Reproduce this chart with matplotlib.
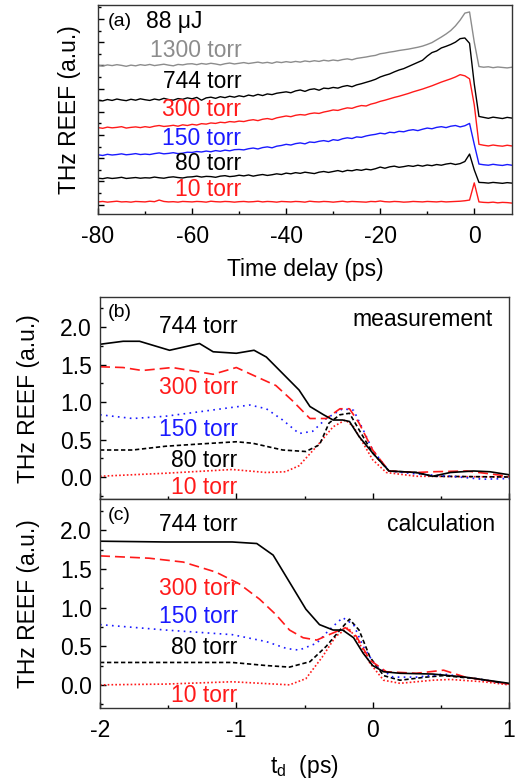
import matplotlib
matplotlib.use("Agg")
import matplotlib.pyplot as plt
from matplotlib.ticker import MultipleLocator

plt.rcParams['font.family'] = ['Liberation Sans', 'DejaVu Sans']
plt.rcParams['font.size'] = 16.5
plt.rcParams['axes.unicode_minus'] = False
plt.rcParams['mathtext.fontset'] = 'custom'
plt.rcParams['mathtext.rm'] = 'Liberation Sans'
plt.rcParams['mathtext.it'] = 'Liberation Sans'

RED = '#ff1a1a'
BLUE = '#1a1aff'
GRAY = '#8c8c8c'

# ---------------- panel (a): long scans, offset traces ----------------
t_a = list(range(-80, 9))

a_10 = [0.12, 0.14, 0.11, 0.13, 0.15, 0.12, 0.13, 0.11, 0.14, 0.13,
        0.12, 0.15, 0.13, 0.20, 0.14, 0.12, 0.13, 0.11, 0.14, 0.13,
        0.12, 0.14, 0.13, 0.11, 0.15, 0.13, 0.12, 0.14, 0.13, 0.11,
        0.13, 0.14, 0.12, 0.13, 0.15, 0.12, 0.14, 0.13, 0.11, 0.14,
        0.13, 0.12, 0.14, 0.13, 0.11, 0.15, 0.13, 0.12, 0.14, 0.13,
        0.11, 0.13, 0.15, 0.12, 0.14, 0.13, 0.12, 0.11, 0.14, 0.13,
        0.16, 0.13, 0.12, 0.14, 0.13, 0.11, 0.12, 0.14, 0.13, 0.12,
        0.14, 0.13, 0.12, 0.14, 0.12, 0.13, 0.14, 0.15, 0.17, 0.20,
        0.94, 0.12, 0.10, 0.09, 0.11, 0.08, 0.10, 0.09, 0.07]
a_80 = [1.14, 1.12, 1.16, 1.13, 1.15, 1.18, 1.13, 1.15, 1.17, 1.14,
        1.16, 1.15, 1.19, 1.16, 1.14, 1.18, 1.20, 1.17, 1.15, 1.19,
        1.20, 1.23, 1.19, 1.22, 1.21, 1.18, 1.23, 1.25, 1.21, 1.23,
        1.27, 1.24, 1.28, 1.23, 1.27, 1.30, 1.26, 1.29, 1.33, 1.30,
        1.36, 1.33, 1.38, 1.35, 1.40, 1.37, 1.34, 1.40, 1.43, 1.39,
        1.43, 1.47, 1.42, 1.48, 1.46, 1.51, 1.48, 1.53, 1.50, 1.55,
        1.62, 1.57, 1.63, 1.66, 1.61, 1.64, 1.68, 1.65, 1.70, 1.66,
        1.71, 1.68, 1.73, 1.70, 1.75, 1.78, 1.73, 1.77, 1.86, 2.18,
        1.50, 0.96, 0.95, 0.93, 0.96, 0.94, 0.92, 0.95, 0.93]
a_150 = [2.15, 2.12, 2.17, 2.14, 2.16, 2.19, 2.15, 2.17, 2.20, 2.16,
         2.18, 2.16, 2.20, 2.23, 2.19, 2.21, 2.24, 2.20, 2.22, 2.26,
         2.25, 2.29, 2.27, 2.31, 2.28, 2.33, 2.30, 2.35, 2.32, 2.37,
         2.38, 2.36, 2.41, 2.44, 2.40, 2.46, 2.49, 2.45, 2.52, 2.55,
         2.60, 2.57, 2.63, 2.66, 2.62, 2.70, 2.68, 2.73, 2.76, 2.72,
         2.80, 2.77, 2.84, 2.88, 2.85, 2.92, 2.90, 2.96, 3.00, 3.03,
         3.08, 3.05, 3.12, 3.10, 3.16, 3.14, 3.20, 3.23, 3.19, 3.25,
         3.30, 3.27, 3.33, 3.36, 3.32, 3.38, 3.41, 3.35, 3.40, 3.50,
         2.60, 1.75, 1.72, 1.70, 1.74, 1.71, 1.69, 1.73, 1.70]
a_300 = [3.32, 3.29, 3.34, 3.31, 3.33, 3.36, 3.30, 3.33, 3.35, 3.32,
         3.36, 3.33, 3.38, 3.41, 3.37, 3.39, 3.42, 3.38, 3.44, 3.41,
         3.46, 3.43, 3.49, 3.47, 3.52, 3.50, 3.55, 3.53, 3.58, 3.56,
         3.60, 3.58, 3.63, 3.66, 3.62, 3.68, 3.71, 3.67, 3.74, 3.78,
         3.82, 3.79, 3.85, 3.88, 3.86, 3.92, 3.95, 3.93, 3.99, 4.03,
         4.08, 4.06, 4.12, 4.17, 4.15, 4.22, 4.27, 4.25, 4.33, 4.38,
         4.45, 4.50, 4.56, 4.62, 4.67, 4.73, 4.79, 4.86, 4.92, 4.98,
         5.05, 5.12, 5.20, 5.28, 5.35, 5.42, 5.50, 5.60, 5.55, 5.42,
         4.30, 2.60, 2.56, 2.53, 2.57, 2.54, 2.52, 2.56, 2.53]
a_744 = [4.50, 4.47, 4.53, 4.49, 4.55, 4.51, 4.48, 4.54, 4.50, 4.56,
         4.52, 4.49, 4.55, 4.51, 4.58, 4.53, 4.50, 4.57, 4.54, 4.60,
         4.56, 4.62, 4.50, 4.60, 4.63, 4.58, 4.65, 4.61, 4.67, 4.63,
         4.69, 4.65, 4.72, 4.68, 4.75, 4.70, 4.77, 4.74, 4.80, 4.83,
         4.86, 4.82, 4.90, 4.94, 4.88, 4.96, 4.99, 4.93, 5.02, 5.00,
         5.05, 5.02, 5.09, 5.13, 5.08, 5.16, 5.21, 5.27, 5.33, 5.40,
         5.50, 5.57, 5.63, 5.72, 5.80, 5.86, 5.95, 6.04, 6.13, 6.22,
         6.40, 6.55, 6.62, 6.75, 6.82, 6.90, 7.00, 7.15, 7.18, 6.95,
         5.20, 3.80, 3.76, 3.72, 3.77, 3.74, 3.71, 3.76, 3.73]
a_1300 = [6.00, 5.97, 6.02, 5.99, 6.03, 6.00, 5.96, 6.01, 5.98, 6.03,
          6.00, 6.04, 5.99, 6.02, 6.05, 6.01, 5.98, 6.04, 6.02, 6.06,
          6.07, 6.03, 6.08, 6.05, 6.09, 6.06, 6.02, 6.07, 6.10, 6.06,
          6.09, 6.12, 6.08, 6.11, 6.14, 6.10, 6.13, 6.09, 6.15, 6.12,
          6.16, 6.13, 6.17, 6.14, 6.19, 6.16, 6.20, 6.17, 6.22, 6.19,
          6.23, 6.20, 6.25, 6.28, 6.24, 6.30, 6.33, 6.36, 6.40, 6.43,
          6.50, 6.53, 6.57, 6.60, 6.64, 6.67, 6.70, 6.74, 6.78, 6.83,
          6.90, 6.98, 7.10, 7.22, 7.35, 7.50, 7.70, 7.95, 8.25, 8.30,
          7.00, 5.95, 5.92, 5.94, 5.90, 5.93, 5.91, 5.89, 5.92]

a_labels = ['1300 torr', '744 torr', '300 torr', '150 torr', '80 torr', '10 torr']
a_label_y = [6.65, 5.29, 4.08, 2.86, 1.79, 0.64]
a_colors = [GRAY, 'black', RED, BLUE, 'black', RED]

# ---------------- panel (b): measurement ----------------
tb_744 = [-2.0, -1.83, -1.71, -1.49, -1.27, -1.17, -1.0, -0.87, -0.78, -0.66, -0.54,
          -0.46, -0.36, -0.29, -0.22, -0.17, -0.1, 0.0, 0.12, 0.32, 0.44, 0.57,
          0.74, 0.86, 1.0]
b_744 = [1.77, 1.81, 1.81, 1.69, 1.78, 1.67, 1.65, 1.69, 1.60, 1.38, 1.16,
         0.94, 0.83, 0.76, 0.76, 0.74, 0.54, 0.32, 0.08, 0.06, 0.01, 0.06,
         0.08, 0.07, 0.03]
tb_300 = [-2.0, -1.83, -1.69, -1.47, -1.17, -1.0, -0.88, -0.71, -0.59, -0.46, -0.34,
          -0.24, -0.17, -0.1, 0.0, 0.12, 0.32, 0.44, 0.69, 1.0]
b_300 = [1.47, 1.46, 1.42, 1.46, 1.37, 1.46, 1.36, 1.22, 1.02, 0.78, 0.78,
         0.91, 0.91, 0.72, 0.36, 0.08, 0.06, 0.07, 0.08, 0.01]
tb_150 = [-2.0, -1.76, -1.52, -1.27, -0.9, -0.78, -0.66, -0.54, -0.44, -0.34, -0.22,
          -0.14, -0.07, 0.0, 0.12, 0.32, 0.57, 0.81, 1.0]
b_150 = [0.83, 0.78, 0.81, 0.87, 0.96, 0.91, 0.76, 0.58, 0.61, 0.78, 0.91,
         0.89, 0.63, 0.36, 0.08, 0.04, 0.01, -0.03, -0.02]
tb_80 = [-2.0, -1.76, -1.52, -1.27, -1.0, -0.88, -0.66, -0.49, -0.39, -0.32, -0.24,
         -0.17, -0.1, 0.0, 0.12, 0.32, 0.44, 1.0]
b_80 = [0.36, 0.36, 0.41, 0.44, 0.47, 0.45, 0.36, 0.34, 0.43, 0.72, 0.83,
        0.85, 0.63, 0.32, 0.08, 0.06, 0.01, 0.0]
tb_10 = [-2.0, -1.52, -1.03, -0.78, -0.64, -0.54, -0.41, -0.29, -0.2, -0.14, -0.07,
         0.0, 0.1, 0.32, 1.0]
b_10 = [0.01, 0.05, 0.10, 0.06, 0.07, 0.15, 0.41, 0.67, 0.76, 0.67, 0.45,
        0.23, 0.06, 0.01, 0.0]

# ---------------- panel (c): calculation ----------------
tc_744 = [-2.0, -1.52, -1.03, -0.85, -0.73, -0.61, -0.49, -0.39, -0.29, -0.22, -0.14,
          -0.07, 0.0, 0.08, 0.2, 0.44, 0.68, 1.0]
c_744 = [1.86, 1.85, 1.85, 1.83, 1.68, 1.33, 0.98, 0.78, 0.71, 0.71, 0.61,
         0.41, 0.25, 0.17, 0.15, 0.14, 0.10, 0.02]
tc_300 = [-2.0, -1.64, -1.39, -1.15, -0.98, -0.83, -0.71, -0.61, -0.51, -0.41, -0.32,
          -0.2, -0.12, -0.02, 0.1, 0.32, 0.52, 0.68, 1.0]
c_300 = [1.67, 1.64, 1.59, 1.46, 1.31, 1.11, 0.91, 0.71, 0.61, 0.58, 0.65,
         0.74, 0.63, 0.32, 0.17, 0.15, 0.19, 0.10, 0.01]
tc_150 = [-2.0, -1.52, -1.03, -0.78, -0.63, -0.54, -0.41, -0.32, -0.22, -0.14, -0.07,
          0.02, 0.15, 0.32, 0.52, 0.76, 1.0]
c_150 = [0.78, 0.71, 0.65, 0.56, 0.47, 0.45, 0.54, 0.71, 0.87, 0.78, 0.50,
         0.25, 0.10, 0.10, 0.14, 0.08, 0.01]
tc_80 = [-2.0, -1.52, -1.03, -0.78, -0.61, -0.46, -0.34, -0.24, -0.17, -0.1, -0.02,
         0.08, 0.2, 0.39, 0.52, 0.76, 1.0]
c_80 = [0.29, 0.29, 0.29, 0.25, 0.23, 0.30, 0.50, 0.71, 0.85, 0.71, 0.36,
        0.12, 0.06, 0.10, 0.12, 0.08, 0.01]
tc_10 = [-2.0, -1.52, -1.03, -0.61, -0.49, -0.37, -0.27, -0.18, -0.11, -0.02, 0.08,
         0.2, 0.44, 0.57, 0.81, 1.0]
c_10 = [0.0, 0.01, 0.04, 0.0, 0.08, 0.36, 0.63, 0.74, 0.58, 0.28, 0.06,
        0.02, 0.06, 0.07, 0.04, 0.0]

bc_labels = ['744 torr', '300 torr', '150 torr', '80 torr', '10 torr']
bc_colors = ['black', RED, BLUE, 'black', RED]
b_label_y = [2.01, 1.20, 0.63, 0.22, -0.14]
c_label_y = [2.07, 1.25, 0.89, 0.48, -0.14]

styles = ['-', (0, (6, 3)), (0, (1, 2.6)), (0, (2.6, 1.6)), (0, (1, 1.3))]

fig = plt.figure(figsize=(5.31, 7.79), dpi=100)
ax_a = fig.add_axes([0.1846, 0.7253, 0.7794, 0.2683])
ax_b = fig.add_axes([0.1883, 0.3588, 0.7703, 0.2599])
ax_c = fig.add_axes([0.1883, 0.0911, 0.7703, 0.2677])

# panel (a)
for y, c in zip([a_10, a_80, a_150, a_300, a_744, a_1300],
                [RED, 'black', BLUE, RED, 'black', GRAY]):
    ax_a.plot(t_a, y, color=c, lw=1.0)
for lab, y, c in zip(a_labels, a_label_y, a_colors):
    ax_a.text(-49.5, y, lab, color=c, ha='right', va='center')
ax_a.text(-78, 7.9, '(a)', fontsize=14, va='center')
ax_a.text(-69.8, 7.9, '88 μJ', va='center')
ax_a.set_xlim(-80, 8)
ax_a.set_ylim(-0.4, 8.6)
ax_a.xaxis.set_major_locator(MultipleLocator(20))
ax_a.xaxis.set_minor_locator(MultipleLocator(10))
ax_a.yaxis.set_major_locator(MultipleLocator(1))
ax_a.yaxis.set_minor_locator(MultipleLocator(0.5))
ax_a.set_yticklabels([])
ax_a.set_xlabel('Time delay (ps)', labelpad=7)
ax_a.set_ylabel('THz REEF (a.u.)', labelpad=4)

# panels (b) and (c)
b_sets = [(tb_744, b_744), (tb_300, b_300), (tb_150, b_150), (tb_80, b_80), (tb_10, b_10)]
c_sets = [(tc_744, c_744), (tc_300, c_300), (tc_150, c_150), (tc_80, c_80), (tc_10, c_10)]
for ax, sets, ly in [(ax_b, b_sets, b_label_y), (ax_c, c_sets, c_label_y)]:
    for (x, y), c, ls in zip(sets[::-1], bc_colors[::-1], styles[::-1]):
        ax.plot(x, y, color=c, ls=ls, lw=1.2)
    for lab, yy, c in zip(bc_labels, ly, bc_colors):
        ax.text(-0.99, yy, lab, color=c, ha='right', va='center')
    ax.set_xlim(-2, 1)
    ax.set_ylim(-0.3, 2.4)
    ax.xaxis.set_major_locator(MultipleLocator(1))
    ax.xaxis.set_minor_locator(MultipleLocator(0.5))
    ax.yaxis.set_major_locator(MultipleLocator(0.5))
    ax.yaxis.set_minor_locator(MultipleLocator(0.25))
    ax.set_ylabel('THz REEF (a.u.)', labelpad=14)

ax_b.set_xticklabels([])
ax_b.text(-1.94, 2.19, '(b)', fontsize=14, va='center')
ax_b.text(0.88, 2.1, 'measurement', ha='right', va='center')
ax_c.text(-1.94, 2.19, '(c)', fontsize=14, va='center')
ax_c.text(0.9, 2.07, 'calculation', ha='right', va='center')
ax_c.set_xlabel(r'$\mathregular{t_d}$  (ps)', labelpad=8)

for ax in (ax_a, ax_b, ax_c):
    ax.tick_params(which='both', direction='in', top=False, right=False)
    ax.tick_params(which='major', length=4, width=1, pad=8)
    ax.tick_params(which='minor', length=2.5, width=1)
    for s in ax.spines.values():
        s.set_color('#333333')
        s.set_linewidth(1.0)
ax_b.tick_params(axis='y', pad=6)
ax_c.tick_params(axis='y', pad=6)

fig.savefig('out.png', dpi=100)
